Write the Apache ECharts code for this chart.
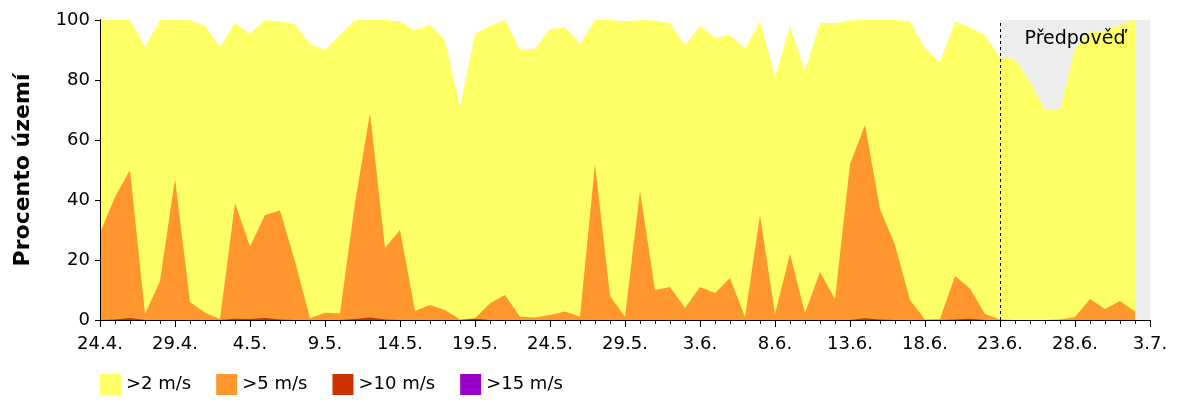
<!DOCTYPE html>
<html>
<head>
<meta charset="utf-8">
<script src="https://cdn.jsdelivr.net/npm/echarts@6/dist/echarts.min.js"></script>
<style>
    html, body { margin: 0; padding: 0; background: #fff; }
    #chart { width: 1200px; height: 400px; }
</style>
</head>
<body>
<div id="chart"></div>
<script>
// popisky osy x (kazdych 5 dni, 24.4. = den 0)
var tickLabels = ['24.4.', '29.4.', '4.5.', '9.5.', '14.5.', '19.5.', '24.5.', '29.5.',
    '3.6.', '8.6.', '13.6.', '18.6.', '23.6.', '28.6.', '3.7.'];

// procento uzemi podle rychlosti vetru, den po dni od 24.4. do 2.7.
var over2 = [100, 100, 100, 91, 100, 100, 100, 98, 91, 99,
    95.5, 100, 99.5, 98.5, 92, 90, 95, 100, 100, 100,
    99.5, 96.5, 98.5, 93, 71, 95.5, 98, 100, 90, 90.5,
    97, 97.5, 92, 100, 100, 99.5, 100, 99.8, 99, 91.5,
    98, 94, 95, 90.5, 99.5, 81, 98, 83, 99, 99,
    99.8, 100, 100, 100, 99.5, 90.5, 86, 99.5, 97.5, 95,
    87.5, 87, 79.5, 70, 70, 90.5, 96, 96.5, 98.5, 100];
var over5 = [29, 41, 50, 2, 13, 47, 6, 2.4, 0.3, 39,
    24.5, 35, 36.5, 19.5, 0.6, 2.4, 2.2, 39, 69, 24,
    30, 3, 5, 3.3, 0.2, 0.6, 5.6, 8.3, 1.1, 0.8,
    1.7, 2.8, 1.1, 52, 8, 1.1, 43, 10, 11, 4,
    11, 9, 14, 1, 35, 2, 22, 2.4, 16, 7,
    52, 65, 37, 25, 6.7, 0.2, 0.3, 14.7, 10.5, 2,
    0.2, 0, 0, 0, 0.2, 1, 7, 3.7, 6.3, 2.8];
var over10 = [0, 0.2, 0.7, 0, 0, 0, 0, 0, 0, 0.4,
    0.3, 0.7, 0.2, 0, 0, 0, 0, 0.3, 0.8, 0.2,
    0, 0, 0, 0, 0, 0.4, 0, 0, 0, 0,
    0, 0, 0, 0, 0, 0, 0, 0, 0, 0,
    0, 0, 0, 0, 0, 0, 0, 0, 0, 0,
    0, 0.6, 0.2, 0, 0, 0, 0, 0.2, 0.4, 0,
    0, 0, 0, 0, 0, 0, 0, 0, 0, 0];
var over15 = [0, 0, 0, 0, 0, 0, 0, 0, 0, 0,
    0, 0, 0, 0, 0, 0, 0, 0, 0, 0,
    0, 0, 0, 0, 0, 0, 0, 0, 0, 0,
    0, 0, 0, 0, 0, 0, 0, 0, 0, 0,
    0, 0, 0, 0, 0, 0, 0, 0, 0, 0,
    0, 0, 0, 0, 0, 0, 0, 0, 0, 0,
    0, 0, 0, 0, 0, 0, 0, 0, 0, 0];

var forecastFrom = 60;   // 23.6.
var dayMax = 70;         // 3.7.

var font = 'DejaVu Sans';

function toPoints(arr) {
    return arr.map(function (v, i) { return [i, v]; });
}

function areaSeries(name, data, color, z) {
    return {
        name: name,
        type: 'line',
        data: toPoints(data),
        symbol: 'none',
        z: z,
        itemStyle: { color: color },
        lineStyle: { width: 0 },
        areaStyle: { color: color, opacity: 1 }
    };
}

var myChart = echarts.init(document.getElementById('chart'), null, { renderer: 'canvas' });

var frameLine = { show: true, lineStyle: { color: '#000', width: 1 } };

var option = {
    animation: false,
    textStyle: { fontFamily: font },
    grid: { left: 100, right: 50, top: 20, bottom: 80 },
    legend: {
        data: ['>2 m/s', '>5 m/s', '>10 m/s', '>15 m/s'],
        left: 95,
        top: 369,
        icon: 'rect',
        itemWidth: 21,
        itemHeight: 21,
        itemGap: 25,
        textStyle: { fontSize: 18, color: '#000', fontFamily: font }
    },
    xAxis: [{
        type: 'value',
        min: 0,
        max: dayMax,
        interval: 5,
        z: 10,
        axisLine: frameLine,
        axisTick: { show: true, length: 7, lineStyle: { color: '#000' } },
        minorTick: { show: true, splitNumber: 5, length: 4, lineStyle: { color: '#000' } },
        splitLine: { show: false },
        axisLabel: {
            margin: 15,
            fontSize: 18,
            color: '#000',
            formatter: function (v) { return tickLabels[Math.round(v / 5)]; }
        }
    }, {
        type: 'value',
        min: 0,
        max: dayMax,
        position: 'top',
        z: 10,
        axisLine: frameLine,
        axisTick: { show: false },
        axisLabel: { show: false },
        splitLine: { show: false }
    }],
    yAxis: [{
        type: 'value',
        min: 0,
        max: 100,
        interval: 20,
        z: 10,
        name: 'Procento území',
        nameLocation: 'middle',
        nameGap: 66,
        nameTextStyle: { fontSize: 22, fontWeight: 'bold', color: '#000', fontFamily: font },
        axisLine: frameLine,
        axisTick: { show: true, length: 5, lineStyle: { color: '#000' } },
        splitLine: { show: false },
        axisLabel: { margin: 10, fontSize: 18, color: '#000' }
    }, {
        type: 'value',
        min: 0,
        max: 100,
        position: 'right',
        z: 10,
        axisLine: frameLine,
        axisTick: { show: false },
        axisLabel: { show: false },
        splitLine: { show: false }
    }],
    series: [
        // sede pozadi predpovedi
        {
            name: 'pozadi',
            type: 'line',
            data: [],
            z: 1,
            markArea: {
                silent: true,
                z: 1,
                itemStyle: { color: '#ededed' },
                data: [[{ xAxis: forecastFrom }, { xAxis: dayMax }]]
            }
        },
        areaSeries('>2 m/s', over2, '#ffff66', 2),
        areaSeries('>5 m/s', over5, '#ff962e', 3),
        areaSeries('>10 m/s', over10, '#cc3300', 4),
        areaSeries('>15 m/s', over15, '#9900cc', 5)
    ]
};

// predel mezi merenim a predpovedi + popisek
var last = option.series[4];
last.markLine = {
    silent: true,
    z: 10,
    symbol: 'none',
    label: { show: false },
    lineStyle: { color: '#000', type: [3, 3], width: 1 },
    data: [{ xAxis: forecastFrom }]
};
last.markArea = {
    silent: true,
    z: 10,
    itemStyle: { color: 'transparent' },
    label: {
        show: true,
        position: 'insideTop',
        distance: 10,
        color: '#000',
        fontSize: 19,
        fontFamily: font
    },
    data: [[{ xAxis: forecastFrom, name: 'Předpověď' }, { xAxis: dayMax }]]
};

myChart.setOption(option, true);
</script>
</body>
</html>
